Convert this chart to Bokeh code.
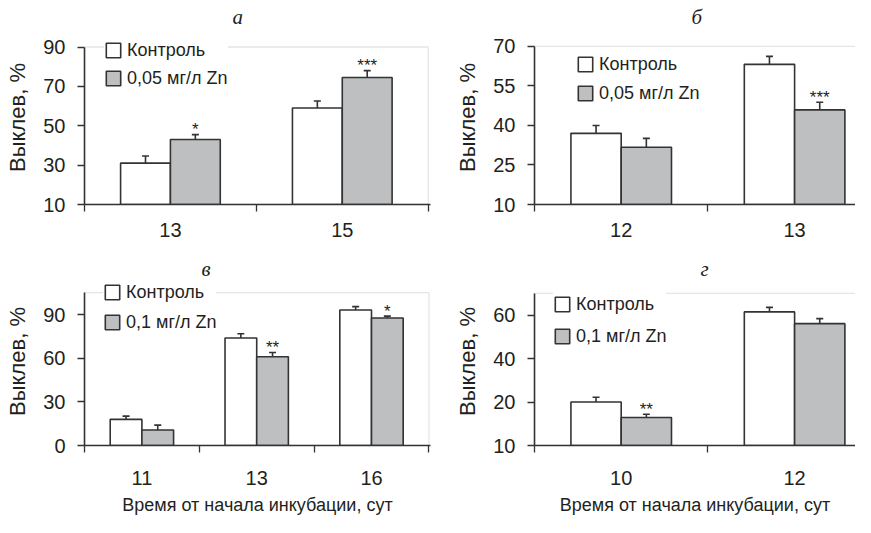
import numpy as np
from bokeh.plotting import figure
from bokeh.models import (Range1d, FixedTicker, ColumnDataSource, Whisker, TeeHead,
                          BoxAnnotation, Legend, LegendItem)
from bokeh.layouts import column, row
from bokeh.embed import file_html
from bokeh.resources import INLINE
from bokeh.core.properties import value

# ---------------- data ----------------
# panel а
a_days = ["13", "15"]
a_control = [31.0, 59.0]
a_control_err = [3.6, 3.6]
a_zn = [43.0, 74.5]
a_zn_err = [2.5, 3.5]
a_marks = ["*", "***"]
a_yticks = [10, 30, 50, 70, 90]
a_ylabels = ["10", "30", "50", "70", "90"]
a_zn_label = "0,05 мг/л Zn"

# panel б
b_days = ["12", "13"]
b_control = [37.0, 63.2]
b_control_err = [3.0, 3.0]
b_zn = [31.7, 45.9]
b_zn_err = [3.4, 2.9]
b_marks = ["", "***"]
b_yticks = [10, 25, 40, 55, 70]
b_ylabels = ["10", "25", "40", "55", "70"]
b_zn_label = "0,05 мг/л Zn"

# panel в
v_days = ["11", "13", "16"]
v_control = [18.0, 74.0, 93.3]
v_control_err = [2.2, 2.9, 2.3]
v_zn = [10.7, 61.1, 87.8]
v_zn_err = [3.3, 2.9, 1.3]
v_marks = ["", "**", "*"]
v_yticks = [0, 30, 60, 90]
v_ylabels = ["0", "30", "60", "90"]
v_zn_label = "0,1 мг/л Zn"

# panel г (bottom tick is labelled "10" in the original)
g_days = ["10", "12"]
g_control = [20.0, 61.5]
g_control_err = [2.2, 2.1]
g_zn = [12.9, 56.1]
g_zn_err = [1.5, 2.3]
g_marks = ["**", ""]
g_yticks = [0, 20, 40, 60]
g_ylabels = ["10", "20", "40", "60"]
g_zn_label = "0,1 мг/л Zn"

control_label = "Контроль"
y_title = "Выклев, %"
x_title = "Время от начала инкубации, сут"
panel_titles = ["а", "б", "в", "г"]

# ---------------- styles ----------------
SANS = "Liberation Sans"
SERIF = "Liberation Serif"
TXT = "#231f20"
DARK = "#333333"
GRAY_FILL = "#bebfc1"
FRAME = "#a9a9a9"
ROW_H = 24
PAD = 4


def make_panel(days, ctrl, ctrl_err, zn, zn_err, marks, yticks, ylabels,
               ymin, ymax, yframe_top, zn_label, title, g, xlabel=None):
    n = len(days)
    bw = g["bw"]
    frame_w = g["w"] - g["l"] - g["r"]
    frame_h = g["h"] - g["t"] - g["b"]
    xspan = frame_w / g["cat_px"]
    y_end = ymin + frame_h * (ymax - ymin) / g["span_px"]

    p = figure(width=g["w"], height=g["h"], output_backend="svg",
               toolbar_location=None,
               x_range=Range1d(-0.5, -0.5 + xspan),
               y_range=Range1d(ymin, y_end),
               min_border_left=g["l"], min_border_right=g["r"],
               min_border_top=g["t"], min_border_bottom=g["b"])
    p.outline_line_color = None
    p.xgrid.visible = False
    p.ygrid.visible = False
    p.background_fill_color = "white"
    p.border_fill_color = "white"

    # light frame of the original plot area
    p.add_layout(BoxAnnotation(left=-0.5, right=n - 0.5, bottom=ymin, top=yframe_top,
                               fill_color=None, line_color=FRAME, line_width=1.3,
                               level="underlay"))

    idx = np.arange(n)
    ctrl = np.array(ctrl)
    zn = np.array(zn)
    src_c = ColumnDataSource(dict(x=idx - bw / 2, top=ctrl, upper=ctrl + np.array(ctrl_err)))
    src_z = ColumnDataSource(dict(x=idx + bw / 2, top=zn, upper=zn + np.array(zn_err),
                                  mark=marks))

    rc = p.vbar(x="x", top="top", bottom=ymin, width=bw, source=src_c,
                fill_color="white", line_color=DARK, line_width=1.6)
    rz = p.vbar(x="x", top="top", bottom=ymin, width=bw, source=src_z,
                fill_color=GRAY_FILL, line_color=DARK, line_width=1.6)

    for src in (src_c, src_z):
        p.add_layout(Whisker(base="x", lower="top", upper="upper", source=src,
                             dimension="height", line_color=DARK, line_width=1.6,
                             lower_head=None,
                             upper_head=TeeHead(size=7, line_color=DARK, line_width=1.6)))

    p.text(x="x", y="upper", text="mark", source=src_z, text_align="center",
           text_baseline="alphabetic", y_offset=-5, text_color=TXT,
           text_font=value(SANS), text_font_size="17px")

    # x axis: labels at category centres, tick marks between categories
    xax = p.xaxis[0]
    xax.ticker = FixedTicker(ticks=list(idx), minor_ticks=[i - 0.5 for i in range(n + 1)])
    xax.major_label_overrides = {int(i): d for i, d in zip(idx, days)}
    xax.major_tick_out = 0
    xax.major_tick_in = 0
    xax.minor_tick_out = 7
    xax.minor_tick_in = 0
    xax.minor_tick_line_color = DARK
    xax.minor_tick_line_width = 1.3
    xax.axis_line_color = DARK
    xax.axis_line_width = 1.6
    xax.major_label_standoff = g["xstand"]
    xax.major_label_text_font = SANS
    xax.major_label_text_font_size = "20px"
    xax.major_label_text_color = TXT
    if xlabel:
        xax.axis_label = xlabel
        xax.axis_label_standoff = 7
        xax.axis_label_text_font = SANS
        xax.axis_label_text_font_size = "18px"
        xax.axis_label_text_font_style = "normal"
        xax.axis_label_text_color = TXT

    yax = p.yaxis[0]
    yax.bounds = (ymin, yframe_top)
    yax.ticker = FixedTicker(ticks=yticks, minor_ticks=[])
    yax.major_label_overrides = {int(t): s for t, s in zip(yticks, ylabels)}
    yax.major_tick_out = 7
    yax.major_tick_in = 0
    yax.major_tick_line_color = DARK
    yax.major_tick_line_width = 1.3
    yax.axis_line_color = DARK
    yax.axis_line_width = 1.6
    yax.major_label_standoff = 12
    yax.major_label_text_font = SANS
    yax.major_label_text_font_size = "20px"
    yax.major_label_text_color = TXT
    yax.axis_label = y_title
    yax.axis_label_standoff = 10
    yax.axis_label_text_font = SANS
    yax.axis_label_text_font_size = "22px"
    yax.axis_label_text_font_style = "normal"
    yax.axis_label_text_color = TXT

    p.title.text = title
    p.title.align = "left"
    p.title.offset = g["toff"]
    p.title.standoff = g["tstand"]
    p.title.text_font = SERIF
    p.title.text_font_style = "italic"
    p.title.text_font_size = "21px"
    p.title.text_color = TXT

    leg_h = 2 * PAD + 2 * ROW_H + g["lsp"]
    vy = frame_h - g["ltop"] - leg_h
    leg = Legend(items=[LegendItem(label=control_label, renderers=[rc]),
                        LegendItem(label=zn_label, renderers=[rz])],
                 location=(g["lx"], vy), glyph_width=18, glyph_height=18,
                 label_text_font=SANS, label_text_font_size="18px",
                 label_text_color=TXT, label_standoff=5, label_height=ROW_H,
                 spacing=g["lsp"], padding=PAD, margin=0,
                 background_fill_color="white", background_fill_alpha=1.0,
                 border_line_color=None)
    p.add_layout(leg)
    return p


# frames of plots in the same row are aligned, so they share top/bottom borders
geom_a = dict(w=435, h=258, l=84, r=5, t=29, b=54, cat_px=171.85, span_px=158.4,
              bw=0.29, toff=148, tstand=4, lx=20, ltop=1, lsp=4, xstand=11)
geom_b = dict(w=420, h=258, l=99, r=0, t=29, b=54, cat_px=173.4, span_px=159.0,
              bw=0.29, toff=157, tstand=4, lx=42, ltop=15, lsp=5, xstand=11)
geom_v = dict(w=435, h=259, l=84, r=5, t=17, b=68, cat_px=114.8, span_px=135.4,
              bw=0.276, toff=117, tstand=-7, lx=19, ltop=1, lsp=6, xstand=18)
geom_g = dict(w=420, h=259, l=99, r=0, t=17, b=68, cat_px=173.4, span_px=135.0,
              bw=0.29, toff=166, tstand=-7, lx=19, ltop=13, lsp=8, xstand=18)

pa = make_panel(a_days, a_control, a_control_err, a_zn, a_zn_err, a_marks,
                a_yticks, a_ylabels, 10, 90, 90, a_zn_label, panel_titles[0], geom_a)
pb = make_panel(b_days, b_control, b_control_err, b_zn, b_zn_err, b_marks,
                b_yticks, b_ylabels, 10, 70, 70, b_zn_label, panel_titles[1], geom_b)
pv = make_panel(v_days, v_control, v_control_err, v_zn, v_zn_err, v_marks,
                v_yticks, v_ylabels, 0, 90, 105.3, v_zn_label, panel_titles[2], geom_v,
                xlabel=x_title)
pg = make_panel(g_days, g_control, g_control_err, g_zn, g_zn_err, g_marks,
                g_yticks, g_ylabels, 0, 60, 70, g_zn_label, panel_titles[3], geom_g,
                xlabel=x_title)

layout = column(row(pa, pb), row(pv, pg))
open("out.html", "w").write(file_html(layout, INLINE))
